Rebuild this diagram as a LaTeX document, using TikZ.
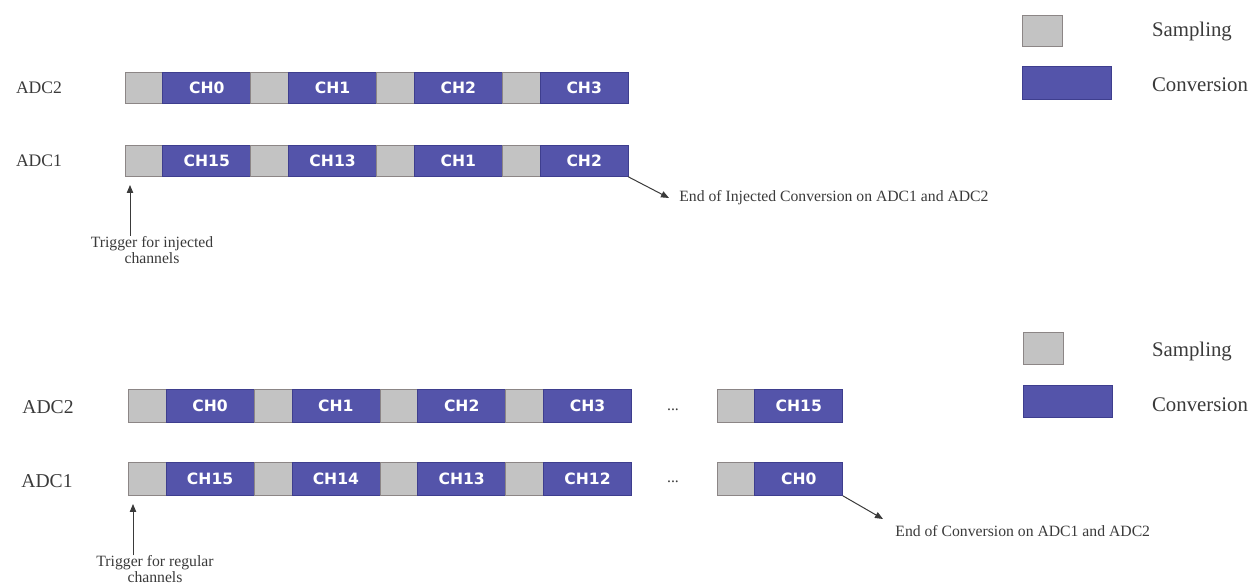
\documentclass[tikz,border=0pt]{standalone}
\usepackage{fontspec}
\setmainfont{Liberation Serif}
\newfontfamily\chfont{DejaVu Sans}
\usepackage{tikz}
\usetikzlibrary{positioning,arrows.meta}
\definecolor{smpfill}{HTML}{C3C3C3}
\definecolor{smpline}{HTML}{8C8686}
\definecolor{cnvfill}{HTML}{5454AA}
\definecolor{cnvline}{HTML}{3E3E8E}
\definecolor{ink}{HTML}{3A3A3A}

\begin{document}
\begin{tikzpicture}[
  x=0.5pt,y=-0.5pt,
  s/.style={draw=smpline,fill=smpfill,minimum width=18.9pt,minimum height=15.75pt,inner sep=0pt,outer sep=0pt,anchor=west},
  c/.style={draw=cnvline,fill=cnvfill,minimum width=44pt,minimum height=15.75pt,inner sep=0pt,outer sep=0pt,text=white,font=\chfont\bfseries\fontsize{7.8}{9}\selectfont},
  lbl/.style={text=ink,font=\fontsize{8.8}{10}\selectfont},
  leg/.style={text=ink,anchor=west,inner sep=0pt,font=\fontsize{10.4}{12}\selectfont},
  note/.style={text=ink,font=\fontsize{7.85}{8}\selectfont,align=center,inner sep=0pt},
  a/.style={-{Triangle[length=4pt,width=3.2pt]},ink,line width=0.5pt}
]
\useasboundingbox (0,0) rectangle (1259,587);

% injected channels
\node[lbl] (t2) at (39,88) {ADC2};
\node[s] (t2s0) at (125,88) {};
\node[c,right=0pt of t2s0] (t2c0) {CH0};
\node[s,right=0pt of t2c0] (t2s1) {};
\node[c,right=0pt of t2s1] (t2c1) {CH1};
\node[s,right=0pt of t2c1] (t2s2) {};
\node[c,right=0pt of t2s2] (t2c2) {CH2};
\node[s,right=0pt of t2c2] (t2s3) {};
\node[c,right=0pt of t2s3] (t2c3) {CH3};

\node[lbl] (t1) at (39,161) {ADC1};
\node[s] (t1s0) at (125,161) {};
\node[c,right=0pt of t1s0] (t1c0) {CH15};
\node[s,right=0pt of t1c0] (t1s1) {};
\node[c,right=0pt of t1s1] (t1c1) {CH13};
\node[s,right=0pt of t1c1] (t1s2) {};
\node[c,right=0pt of t1s2] (t1c2) {CH1};
\node[s,right=0pt of t1c2] (t1s3) {};
\node[c,right=0pt of t1s3] (t1c3) {CH2};

\node[note] (ttrig) at (152,250) {Trigger for injected\\channels};
\coordinate (ttip) at (130,185);
\draw[a] (ttrig.north -| ttip) -- (ttip);
\node[note,anchor=west] (tend) at (679,198) {End of Injected Conversion on ADC1 and ADC2};
\draw[a] (t1c3.south east) -- ([xshift=-5pt]tend.west);

\node[s,minimum width=20pt,minimum height=15.5pt,anchor=north west] (tls) at (1022.7,15) {};
\node[leg] (tlst) at (1151.7,32) {Sampling};
\node[c,minimum width=44.5pt,minimum height=16.5pt,anchor=north west] (tlc) at (1022.7,66) {};
\node[leg] (tlct) at (1151.7,85) {Conversion};

% regular channels
\begin{scope}[s/.append style={minimum height=16.5pt},c/.append style={minimum height=16.5pt},lbl/.append style={font=\fontsize{9.8}{11}\selectfont}]
\node[lbl] (b2) at (48,407) {ADC2};
\node[s] (b2s0) at (128.3,406) {};
\node[c,right=0pt of b2s0] (b2c0) {CH0};
\node[s,right=0pt of b2c0] (b2s1) {};
\node[c,right=0pt of b2s1] (b2c1) {CH1};
\node[s,right=0pt of b2c1] (b2s2) {};
\node[c,right=0pt of b2s2] (b2c2) {CH2};
\node[s,right=0pt of b2c2] (b2s3) {};
\node[c,right=0pt of b2s3] (b2c3) {CH3};
\node[note] (b2dots) at (673,410) {...};
\node[s] (b2s4) at (717,406) {};
\node[c,right=0pt of b2s4] (b2c4) {CH15};

\node[lbl] (b1) at (47,481) {ADC1};
\node[s] (b1s0) at (128.3,479.3) {};
\node[c,right=0pt of b1s0] (b1c0) {CH15};
\node[s,right=0pt of b1c0] (b1s1) {};
\node[c,right=0pt of b1s1] (b1c1) {CH14};
\node[s,right=0pt of b1c1] (b1s2) {};
\node[c,right=0pt of b1s2] (b1c2) {CH13};
\node[s,right=0pt of b1c2] (b1s3) {};
\node[c,right=0pt of b1s3] (b1c3) {CH12};
\node[note] (b1dots) at (673,482) {...};
\node[s] (b1s4) at (717,479.3) {};
\node[c,right=0pt of b1s4] (b1c4) {CH0};
\end{scope}

\node[note] (btrig) at (155,569.5) {Trigger for regular\\channels};
\coordinate (btip) at (133,504);
\draw[a] (btrig.north -| btip) -- (btip);
\node[note,anchor=west] (bend) at (895,531) {End of Conversion on ADC1 and ADC2};
\draw[a] (b1c4.south east) -- ([xshift=-6pt,yshift=6pt]bend.west);

\node[s,minimum width=20pt,minimum height=16pt,anchor=north west] (bls) at (1023,332.7) {};
\node[leg] (blst) at (1151.7,352) {Sampling};
\node[c,minimum width=44.5pt,minimum height=16pt,anchor=north west] (blc) at (1023,385) {};
\node[leg] (blct) at (1151.7,405) {Conversion};
\end{tikzpicture}
\end{document}
